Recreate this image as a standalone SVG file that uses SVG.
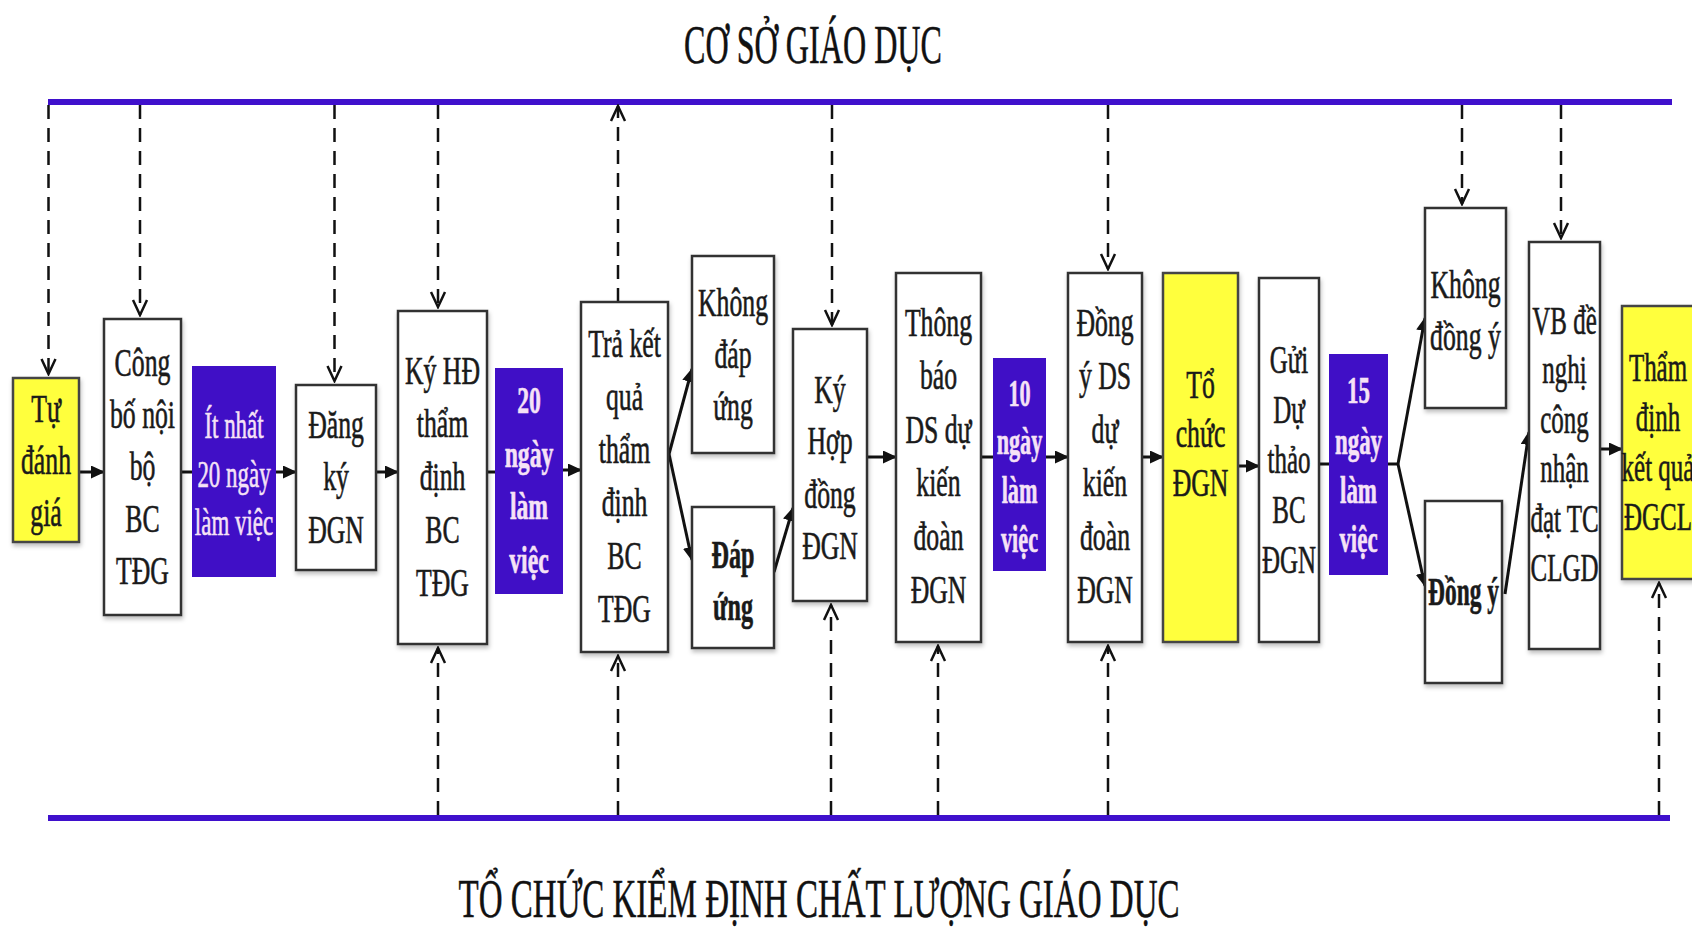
<svg xmlns="http://www.w3.org/2000/svg" width="1692" height="930" viewBox="0 0 1692 930">
<defs>
<style>
.box{fill:#fff;stroke:#333;stroke-width:2.5}
.yel{fill:#ffff3c;stroke:#444;stroke-width:2.5}
.pur{fill:#400fc6;stroke:none}
.bt{font-family:"Liberation Serif","Times New Roman",serif;font-size:39px;fill:#1a1a1a;stroke:#1a1a1a;stroke-width:0.6;text-anchor:middle}
.wt{fill:#f6e2f6;stroke:#f6e2f6;font-size:37px}
.b{font-weight:bold}
.dash{stroke:#111;stroke-width:2.5;stroke-dasharray:14 9;fill:none}
.sol{stroke:#111;stroke-width:3;fill:none}
.lane{stroke:#3f10cc;stroke-width:6}
.title{font-family:"Liberation Serif","Times New Roman",serif;font-size:55px;fill:#111;stroke:#111;stroke-width:0.5;text-anchor:middle}
</style>
<marker id="v" markerUnits="userSpaceOnUse" markerWidth="20" markerHeight="20" viewBox="0 0 20 20" refX="18" refY="10" orient="auto">
<path d="M3,3 L18,10 L3,17" fill="none" stroke="#111" stroke-width="2.5"/>
</marker>
<marker id="a" markerUnits="userSpaceOnUse" markerWidth="14" markerHeight="13" viewBox="0 0 14 13" refX="13" refY="6.5" orient="auto">
<path d="M0,0 L14,6.5 L0,13 z" fill="#111"/>
</marker>
<filter id="sh" x="-10%" y="-10%" width="130%" height="130%">
<feDropShadow dx="1" dy="3" stdDeviation="2" flood-color="#000" flood-opacity="0.25"/>
</filter>
</defs>
<rect width="1692" height="930" fill="#fff"/>

<g id="titles">
<text class="title" x="813" y="63" textLength="258" lengthAdjust="spacingAndGlyphs">CƠ SỞ GIÁO DỤC</text>
<text class="title" x="819" y="917" font-size="53" textLength="721" lengthAdjust="spacingAndGlyphs">TỔ CHỨC KIỂM ĐỊNH CHẤT LƯỢNG GIÁO DỤC</text>
</g>

<g id="lanes">
<line class="lane" x1="48" y1="102" x2="1672" y2="102"/>
<line class="lane" x1="48" y1="818" x2="1670" y2="818"/>
</g>

<g id="connectors">
<line class="dash" x1="48.5" y1="105" x2="48.5" y2="374" marker-end="url(#v)"/>
<line class="dash" x1="140" y1="105" x2="140" y2="315" marker-end="url(#v)"/>
<line class="dash" x1="334.5" y1="105" x2="334.5" y2="381" marker-end="url(#v)"/>
<line class="dash" x1="438" y1="105" x2="438" y2="307" marker-end="url(#v)"/>
<line class="dash" x1="618" y1="302" x2="618" y2="106" marker-end="url(#v)"/>
<line class="dash" x1="832" y1="105" x2="832" y2="325" marker-end="url(#v)"/>
<line class="dash" x1="1108" y1="105" x2="1108" y2="269" marker-end="url(#v)"/>
<line class="dash" x1="1462" y1="105" x2="1462" y2="204" marker-end="url(#v)"/>
<line class="dash" x1="1561" y1="105" x2="1561" y2="238" marker-end="url(#v)"/>

<line class="dash" x1="438" y1="815" x2="438" y2="648" marker-end="url(#v)"/>
<line class="dash" x1="618" y1="815" x2="618" y2="656" marker-end="url(#v)"/>
<line class="dash" x1="831" y1="815" x2="831" y2="605" marker-end="url(#v)"/>
<line class="dash" x1="938" y1="815" x2="938" y2="646" marker-end="url(#v)"/>
<line class="dash" x1="1108" y1="815" x2="1108" y2="646" marker-end="url(#v)"/>
<line class="dash" x1="1659" y1="815" x2="1659" y2="583" marker-end="url(#v)"/>

<line class="sol" x1="79" y1="472" x2="104" y2="472" marker-end="url(#a)"/>
<line class="sol" x1="181" y1="472" x2="192" y2="472"/>
<line class="sol" x1="276" y1="472" x2="296" y2="472" marker-end="url(#a)"/>
<line class="sol" x1="376" y1="472" x2="398" y2="472" marker-end="url(#a)"/>
<line class="sol" x1="487" y1="472" x2="495" y2="472"/>
<line class="sol" x1="563" y1="470" x2="581" y2="470" marker-end="url(#a)"/>
<line class="sol" x1="669" y1="454" x2="692" y2="369" marker-end="url(#a)"/>
<line class="sol" x1="669" y1="454" x2="692" y2="560" marker-end="url(#a)"/>
<line class="sol" x1="774" y1="572" x2="793" y2="508" marker-end="url(#a)"/>
<line class="sol" x1="867" y1="457" x2="896" y2="457" marker-end="url(#a)"/>
<line class="sol" x1="981" y1="457" x2="993" y2="457"/>
<line class="sol" x1="1046" y1="457" x2="1068" y2="457" marker-end="url(#a)"/>
<line class="sol" x1="1142" y1="457" x2="1163" y2="457" marker-end="url(#a)"/>
<line class="sol" x1="1238" y1="466" x2="1259" y2="466" marker-end="url(#a)"/>
<line class="sol" x1="1319" y1="464" x2="1329" y2="464"/>
<line class="sol" x1="1388" y1="464" x2="1398" y2="464"/>
<line class="sol" x1="1398" y1="464" x2="1425" y2="318" marker-end="url(#a)"/>
<line class="sol" x1="1398" y1="464" x2="1425" y2="586" marker-end="url(#a)"/>
<line class="sol" x1="1505" y1="594" x2="1529" y2="432" marker-end="url(#a)"/>
<line class="sol" x1="1600" y1="449" x2="1622" y2="449" marker-end="url(#a)"/>
</g>

<g id="n1"><rect class="yel" x="13" y="378" width="66" height="164" filter="url(#sh)"/>
<text class="bt" transform="translate(46 0) scale(0.66 1)"><tspan x="0" y="422">Tự</tspan><tspan x="0" y="474">đánh</tspan><tspan x="0" y="526">giá</tspan></text></g>

<g id="n2"><rect class="box" x="104" y="319" width="77" height="296" filter="url(#sh)"/>
<text class="bt" transform="translate(142.5 0) scale(0.66 1)"><tspan x="0" y="376">Công</tspan><tspan x="0" y="428">bố nội</tspan><tspan x="0" y="480">bộ</tspan><tspan x="0" y="532">BC</tspan><tspan x="0" y="584">TĐG</tspan></text></g>

<g id="n3"><rect class="pur" x="192" y="366" width="84" height="211"/>
<text class="bt wt" transform="translate(234 0) scale(0.62 1)"><tspan x="0" y="438">Ít nhất</tspan><tspan x="0" y="487">20 ngày</tspan><tspan x="0" y="535">làm việc</tspan></text></g>

<g id="n4"><rect class="box" x="296" y="385" width="80" height="185" filter="url(#sh)"/>
<text class="bt" transform="translate(336 0) scale(0.66 1)"><tspan x="0" y="438">Đăng</tspan><tspan x="0" y="490">ký</tspan><tspan x="0" y="543">ĐGN</tspan></text></g>

<g id="n5"><rect class="box" x="398" y="311" width="89" height="333" filter="url(#sh)"/>
<text class="bt" transform="translate(442.5 0) scale(0.66 1)"><tspan x="0" y="384">Ký HĐ</tspan><tspan x="0" y="437">thẩm</tspan><tspan x="0" y="490">định</tspan><tspan x="0" y="543">BC</tspan><tspan x="0" y="596">TĐG</tspan></text></g>

<g id="n6"><rect class="pur" x="495" y="368" width="68" height="226"/>
<text class="bt wt b" transform="translate(529 0) scale(0.64 1)"><tspan x="0" y="413">20</tspan><tspan x="0" y="467">ngày</tspan><tspan x="0" y="519">làm</tspan><tspan x="0" y="573">việc</tspan></text></g>

<g id="n7"><rect class="box" x="581" y="302" width="87" height="350" filter="url(#sh)"/>
<text class="bt" transform="translate(624.5 0) scale(0.66 1)"><tspan x="0" y="357">Trả kết</tspan><tspan x="0" y="410">quả</tspan><tspan x="0" y="463">thẩm</tspan><tspan x="0" y="516">định</tspan><tspan x="0" y="569">BC</tspan><tspan x="0" y="622">TĐG</tspan></text></g>

<g id="n8"><rect class="box" x="692" y="256" width="82" height="197" filter="url(#sh)"/>
<text class="bt" transform="translate(733 0) scale(0.66 1)"><tspan x="0" y="316">Không</tspan><tspan x="0" y="368">đáp</tspan><tspan x="0" y="420">ứng</tspan></text></g>

<g id="n9"><rect class="box" x="692" y="507" width="82" height="141" filter="url(#sh)"/>
<text class="bt b" transform="translate(733 0) scale(0.62 1)"><tspan x="0" y="568">Đáp</tspan><tspan x="0" y="620">ứng</tspan></text></g>

<g id="n10"><rect class="box" x="793" y="329" width="74" height="272" filter="url(#sh)"/>
<text class="bt" transform="translate(830 0) scale(0.66 1)"><tspan x="0" y="403">Ký</tspan><tspan x="0" y="454">Hợp</tspan><tspan x="0" y="508">đồng</tspan><tspan x="0" y="559">ĐGN</tspan></text></g>

<g id="n11"><rect class="box" x="896" y="273" width="85" height="369" filter="url(#sh)"/>
<text class="bt" transform="translate(938.5 0) scale(0.66 1)"><tspan x="0" y="336">Thông</tspan><tspan x="0" y="389.5">báo</tspan><tspan x="0" y="443">DS dự</tspan><tspan x="0" y="496.5">kiến</tspan><tspan x="0" y="550">đoàn</tspan><tspan x="0" y="603">ĐGN</tspan></text></g>

<g id="n12"><rect class="pur" x="993" y="358" width="53" height="213"/>
<text class="bt wt b" transform="translate(1019.5 0) scale(0.6 1)"><tspan x="0" y="406">10</tspan><tspan x="0" y="454">ngày</tspan><tspan x="0" y="503">làm</tspan><tspan x="0" y="552">việc</tspan></text></g>

<g id="n13"><rect class="box" x="1068" y="273" width="74" height="369" filter="url(#sh)"/>
<text class="bt" transform="translate(1105 0) scale(0.66 1)"><tspan x="0" y="336">Đồng</tspan><tspan x="0" y="389.5">ý DS</tspan><tspan x="0" y="443">dự</tspan><tspan x="0" y="496.5">kiến</tspan><tspan x="0" y="550">đoàn</tspan><tspan x="0" y="603">ĐGN</tspan></text></g>

<g id="n14"><rect class="yel" x="1163" y="273" width="75" height="369" filter="url(#sh)"/>
<text class="bt" transform="translate(1200.5 0) scale(0.66 1)"><tspan x="0" y="398">Tổ</tspan><tspan x="0" y="447">chức</tspan><tspan x="0" y="496">ĐGN</tspan></text></g>

<g id="n15"><rect class="box" x="1259" y="278" width="60" height="364" filter="url(#sh)"/>
<text class="bt" transform="translate(1289 0) scale(0.64 1)"><tspan x="0" y="373">Gửi</tspan><tspan x="0" y="423">Dự</tspan><tspan x="0" y="473">thảo</tspan><tspan x="0" y="523">BC</tspan><tspan x="0" y="573">ĐGN</tspan></text></g>

<g id="n16"><rect class="pur" x="1329" y="354" width="59" height="221"/>
<text class="bt wt b" transform="translate(1358.5 0) scale(0.62 1)"><tspan x="0" y="403">15</tspan><tspan x="0" y="454">ngày</tspan><tspan x="0" y="503">làm</tspan><tspan x="0" y="552">việc</tspan></text></g>

<g id="n17"><rect class="box" x="1425" y="208" width="81" height="200" filter="url(#sh)"/>
<text class="bt" transform="translate(1465.5 0) scale(0.66 1)"><tspan x="0" y="298">Không</tspan><tspan x="0" y="350">đồng ý</tspan></text></g>

<g id="n18"><rect class="box" x="1425" y="501" width="77" height="182" filter="url(#sh)"/>
<text class="bt b" transform="translate(1463.5 0) scale(0.6 1)"><tspan x="0" y="605">Đồng ý</tspan></text></g>

<g id="n19"><rect class="box" x="1529" y="242" width="71" height="407" filter="url(#sh)"/>
<text class="bt" transform="translate(1564.5 0) scale(0.64 1)"><tspan x="0" y="334">VB đề</tspan><tspan x="0" y="383.5">nghị</tspan><tspan x="0" y="433">công</tspan><tspan x="0" y="482.5">nhận</tspan><tspan x="0" y="532">đạt TC</tspan><tspan x="0" y="581.5">CLGD</tspan></text></g>

<g id="n20"><rect class="yel" x="1622" y="306" width="80" height="273" filter="url(#sh)"/>
<text class="bt" transform="translate(1658 0) scale(0.64 1)"><tspan x="0" y="381">Thẩm</tspan><tspan x="0" y="431">định</tspan><tspan x="0" y="481">kết quả</tspan><tspan x="0" y="530">ĐGCL</tspan></text></g>
</svg>
